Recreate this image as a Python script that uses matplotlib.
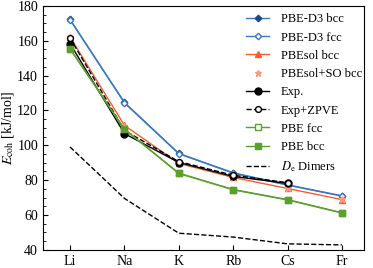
import matplotlib
matplotlib.use("Agg")
import matplotlib.pyplot as plt
from matplotlib.ticker import MultipleLocator

plt.rcParams['font.family'] = ['Liberation Serif', 'DejaVu Serif']
plt.rcParams['mathtext.fontset'] = 'stix'

elements = ['Li', 'Na', 'K', 'Rb', 'Cs', 'Fr']
d3_bcc = [172.2, 124.6, 95.3, 84.2, 77.3, 71.0]
d3_fcc = [172.0, 124.3, 95.1, 84.0, 77.1, 70.8]
pbesol_bcc = [162.1, 111.4, 89.6, 81.5, 75.2, 68.8]
pbesol_so = [162.0, 111.0, 89.8, 81.6, 75.4, 69.0]
exp = [158.3, 106.7, 90.1, 82.1, 78.1]
exp_zpve = [161.5, 108.5, 90.6, 82.8, 78.5]
pbe_fcc = [155.5, 109.3, 84.0, 74.6, 68.8, 61.3]
pbe_bcc = [155.2, 109.1, 83.8, 74.4, 68.6, 61.1]
de_dimers = [99.0, 69.5, 49.5, 47.3, 43.4, 42.8]

x = list(range(len(elements)))

fig, ax = plt.subplots(figsize=(3.73, 2.68), dpi=100)

ax.plot(x, d3_bcc, color='#3a78c0', marker='D', ms=3.3, mfc='#1a4a8a', mec='#1a4a8a', lw=1.0, label='PBE-D3 bcc')
ax.plot(x, d3_fcc, color='#3a78c0', marker='D', ms=3.3, mfc='white', mec='#3a78c0', lw=1.0, label='PBE-D3 fcc')
ax.plot(x, pbesol_bcc, color='#ff5a2a', marker='^', ms=4, lw=1.0, label='PBEsol bcc')
ax.plot(x, pbesol_so, color='#ff9a80', marker='*', ms=5, lw=0, label='PBEsol+SO bcc')
ax.plot(x[:5], exp, color='black', marker='o', ms=5, lw=1.0, label='Exp.')
ax.plot(x[:5], exp_zpve, color='black', ls='--', marker='o', ms=4.2, mfc='white', lw=1.0, label='Exp+ZPVE')
ax.plot(x, pbe_fcc, color='#5aa02c', marker='s', ms=4, mfc='white', lw=1.0, label='PBE fcc')
ax.plot(x, pbe_bcc, color='#5aa02c', marker='s', ms=5, lw=1.0, label='PBE bcc')
ax.plot(x, de_dimers, color='black', ls='--', lw=1.0, label='$D_{\\rm e}$ Dimers')

ax.set_xlim(-0.5, 5.4)
ax.set_ylim(40, 180)
ax.set_xticks(x)
ax.set_xticklabels(elements, fontsize=10)
ax.yaxis.set_major_locator(MultipleLocator(20))
ax.yaxis.set_minor_locator(MultipleLocator(5))
ax.tick_params(axis='both', direction='in', labelsize=10)
ax.tick_params(which='minor', direction='in', length=2.5)
ax.set_ylabel('$E_{\\rm coh}$ [kJ/mol]', fontsize=10)
ax.yaxis.set_label_coords(-0.085, 0.5)

ax.legend(loc='upper right', bbox_to_anchor=(1.01, 0.99), frameon=False, fontsize=9,
          handlelength=1.9, handletextpad=0.9, labelspacing=0.5, borderaxespad=0.0)

fig.subplots_adjust(left=0.115, right=0.975, top=0.978, bottom=0.068)
fig.savefig('out.png', dpi=100)
